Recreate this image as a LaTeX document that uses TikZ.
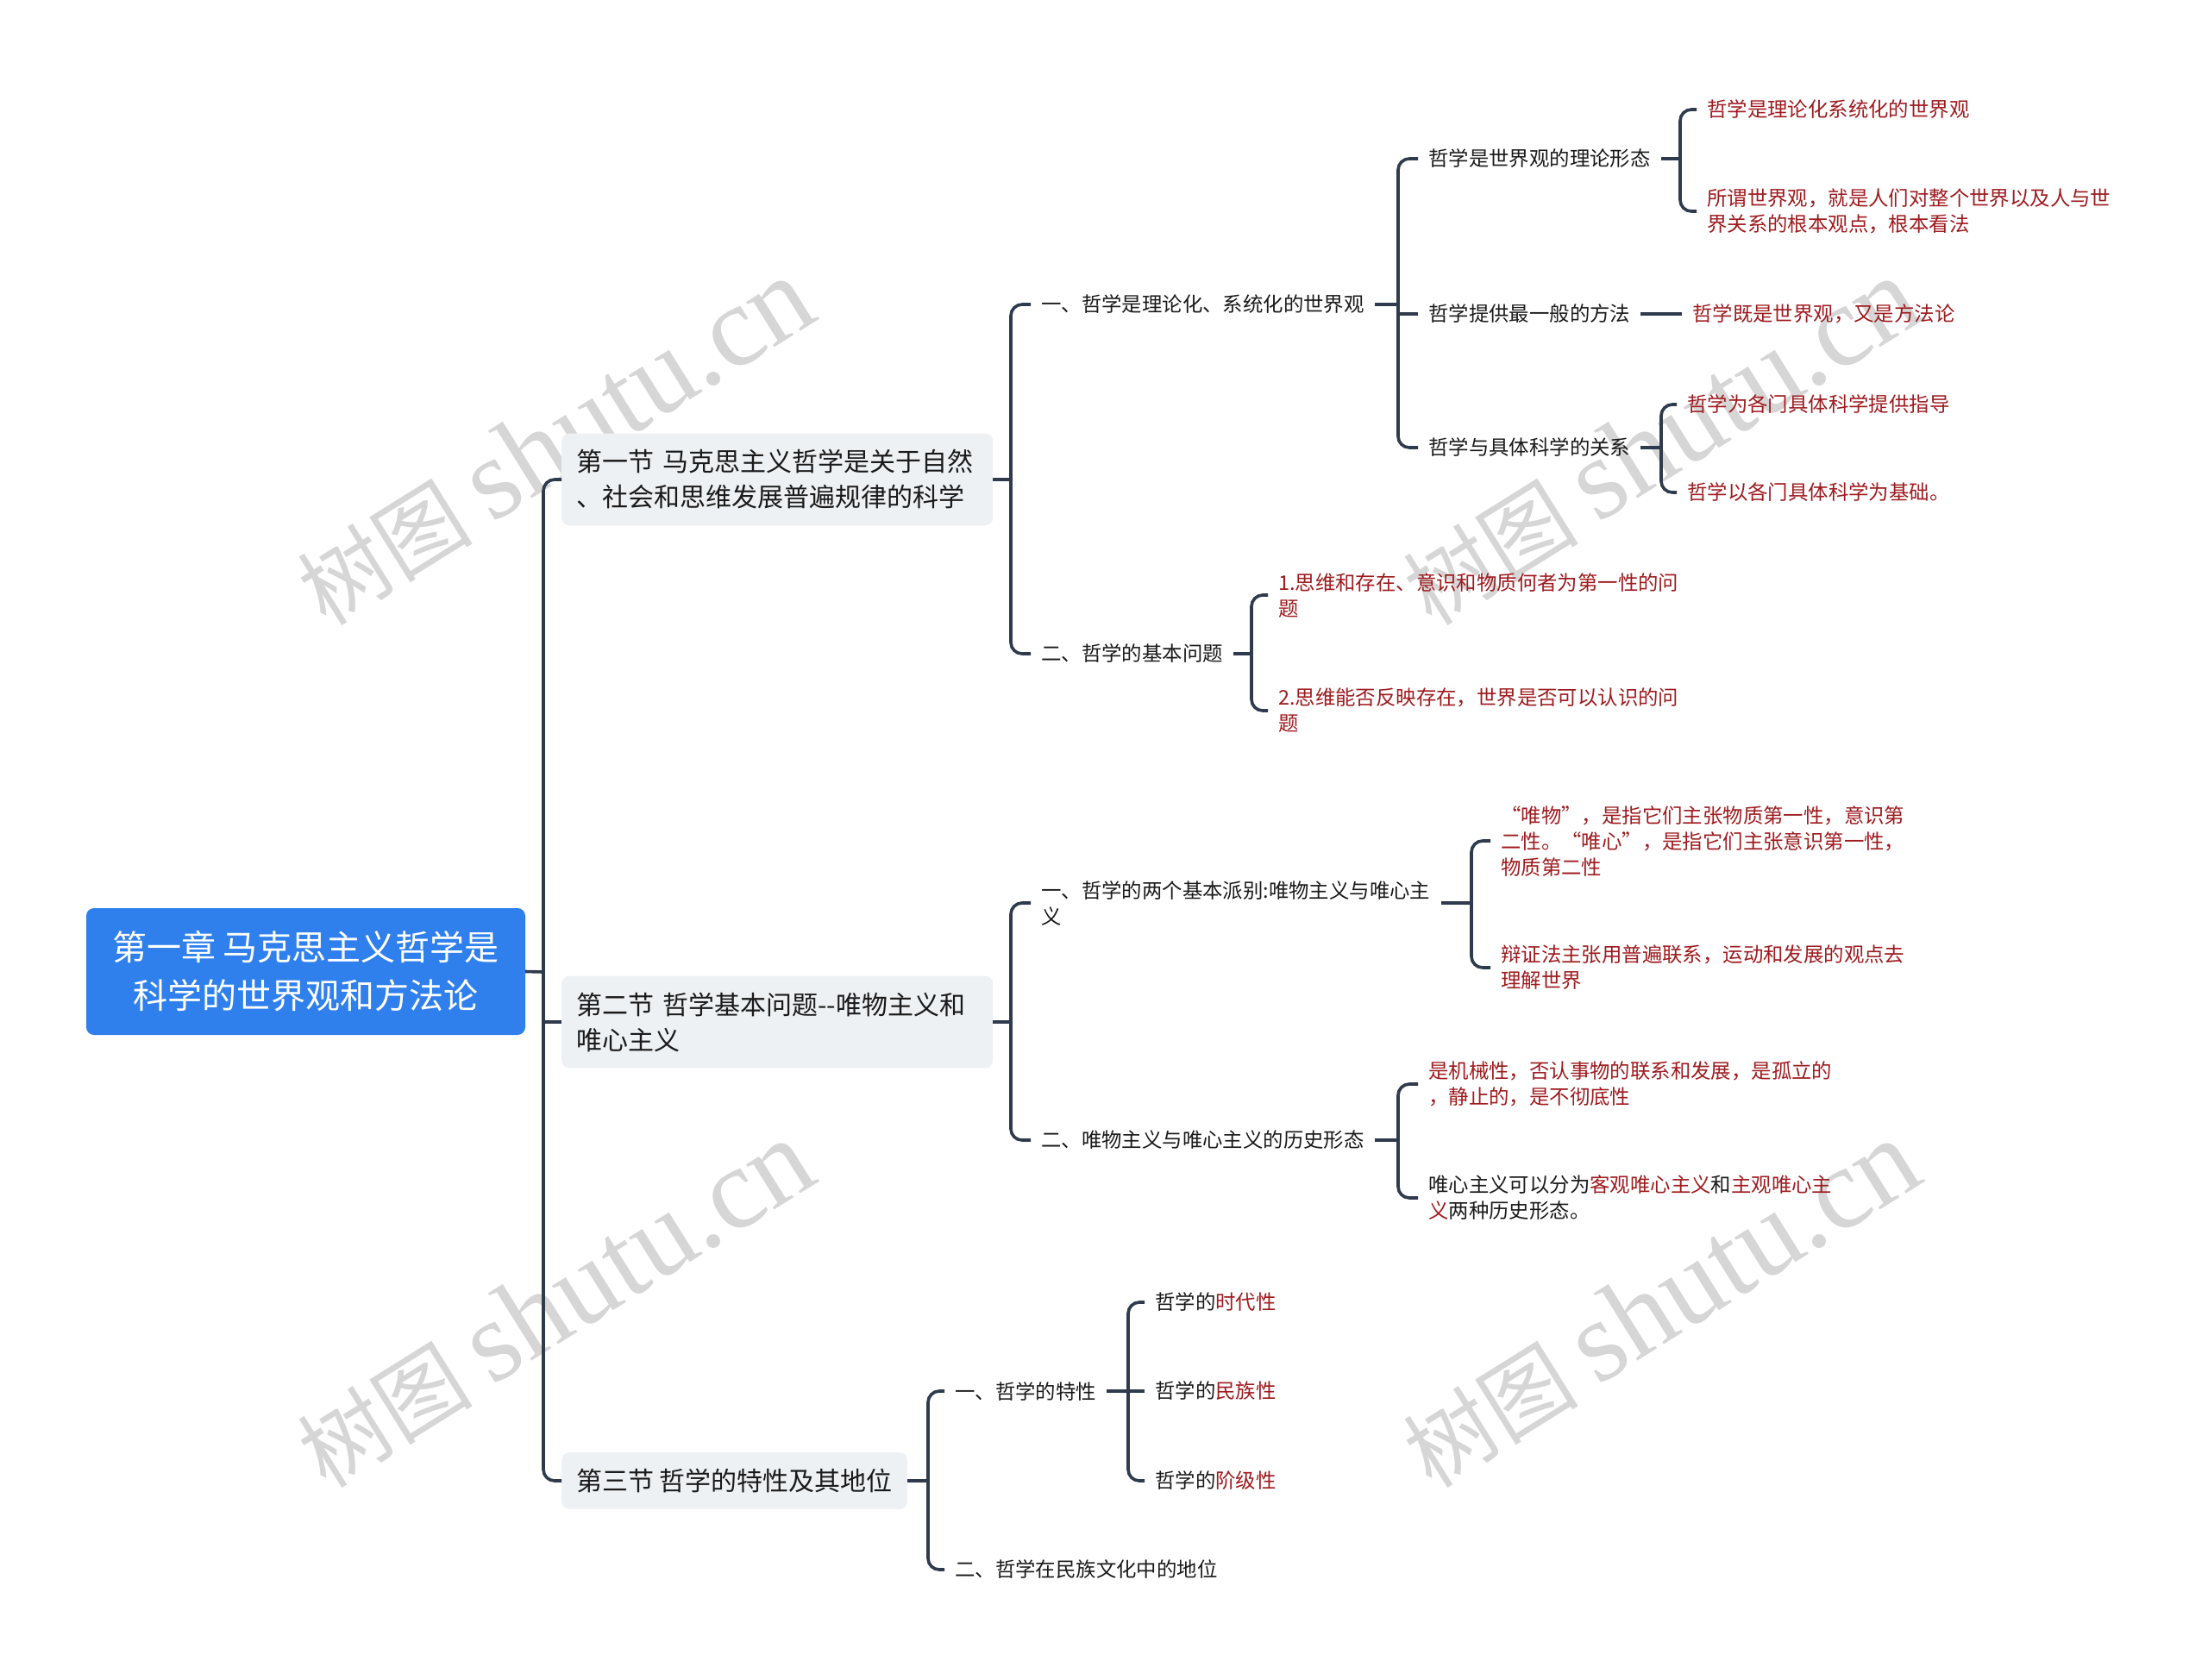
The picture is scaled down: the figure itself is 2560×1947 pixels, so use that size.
\documentclass[tikz,border=0pt]{standalone}
\usepackage{fontspec}
\setmainfont{Noto Sans CJK SC}
\newfontfamily\wmlatin{Liberation Serif}
\usetikzlibrary{calc}
\definecolor{conn}{HTML}{2F3B4D}
\definecolor{redt}{HTML}{9E1B1F}
\definecolor{blk}{HTML}{1A1A1A}
\definecolor{rootblue}{HTML}{2F80ED}
\definecolor{secfill}{HTML}{EEF1F4}
\definecolor{wm}{HTML}{D6D6D6}
\begin{document}
\begin{tikzpicture}[x=1pt,y=-1pt,
  link/.style={draw=conn,line width=3.6pt,rounded corners=13pt},
  stub/.style={draw=conn,line width=3.6pt},
  leaf/.style={anchor=west,inner xsep=12pt,inner ysep=3pt,font=\fontsize{23.4}{30}\selectfont,text=blk,align=left},
  rleaf/.style={leaf,text=redt},
  sec/.style={anchor=west,fill=secfill,rounded corners=9pt,inner xsep=17pt,inner ysep=19pt,font=\fontsize{30}{41}\selectfont,text=blk,align=left},
  rootbox/.style={fill=rootblue,rounded corners=9pt,text=white,font=\fontsize{40}{56}\selectfont,align=center,minimum width=509pt,minimum height=147pt,inner sep=0pt},
  wmark/.style={text=wm,rotate=32,inner sep=0pt}
]
\useasboundingbox[fill=white] (0,0) rectangle (2560,1947);

% watermarks
\node[wmark] (w1) at (643,512) {\fontsize{102}{102}\selectfont 树图 {\wmlatin\fontsize{134}{134}\selectfont shutu.cn}};
\node[wmark] (w2) at (1925,512) {\fontsize{102}{102}\selectfont 树图 {\wmlatin\fontsize{134}{134}\selectfont shutu.cn}};
\node[wmark] (w3) at (643,1512) {\fontsize{102}{102}\selectfont 树图 {\wmlatin\fontsize{134}{134}\selectfont shutu.cn}};
\node[wmark] (w4) at (1925,1512) {\fontsize{102}{102}\selectfont 树图 {\wmlatin\fontsize{134}{134}\selectfont shutu.cn}};

% root
\node[rootbox] (root) at (354.5,1126.5) {第一章 马克思主义哲学是\\科学的世界观和方法论};

% sections
\node[sec,text width=466pt] (s1) at (651,556) {第一节 马克思主义哲学是关于自然\\、社会和思维发展普遍规律的科学};
\node[sec,text width=466pt] (s2) at (651,1185) {第二节 哲学基本问题-{}-唯物主义和\\唯心主义};
\node[sec] (s3) at (651,1717) {第三节 哲学的特性及其地位};

\coordinate (j0) at (630,1127);
\draw[stub] (root.east) -- (j0);
\draw[link] (j0) |- (s1.west);
\draw[link] (j0) |- (s3.west);
\draw[stub] (j0) -- (j0 |- s2.west) -- (s2.west);

% section 1
\node[leaf] (a1) at (1195,353) {一、哲学是理论化、系统化的世界观};
\node[leaf] (a2) at (1195,758) {二、哲学的基本问题};
\coordinate (j1) at (1172,556);
\draw[stub] (s1.east) -- (j1);
\draw[link] (j1) |- (a1.west);
\draw[link] (j1) |- (a2.west);

\node[leaf] (b1) at (1644,184) {哲学是世界观的理论形态};
\node[leaf] (b2) at (1644,364) {哲学提供最一般的方法};
\node[leaf] (b3) at (1644,519) {哲学与具体科学的关系};
\coordinate (ja1) at (1621,353);
\draw[stub] (a1.east) -- (ja1);
\draw[link] (ja1) |- (b1.west);
\draw[link] (ja1) |- (b3.west);
\draw[stub] (ja1 |- b2.west) -- (b2.west);

\node[rleaf] (c1) at (1967,127) {哲学是理论化系统化的世界观};
\node[rleaf] (c2) at (1967,245) {所谓世界观，就是人们对整个世界以及人与世\\界关系的根本观点，根本看法};
\coordinate (jb1) at (1948,184);
\draw[stub] (b1.east) -- (jb1);
\draw[link] (jb1) |- (c1.west);
\draw[link] (jb1) |- (c2.west);

\node[rleaf] (d1) at (1950,364) {哲学既是世界观，又是方法论};
\draw[stub] (b2.east) -- (d1.west);

\node[rleaf] (e1) at (1944,469) {哲学为各门具体科学提供指导};
\node[rleaf] (e2) at (1944,571) {哲学以各门具体科学为基础。};
\coordinate (jb3) at (1926,519);
\draw[stub] (b3.east) -- (jb3);
\draw[link] (jb3) |- (e1.west);
\draw[link] (jb3) |- (e2.west);

\node[rleaf] (f1) at (1470,690) {1.思维和存在、意识和物质何者为第一性的问\\题};
\node[rleaf] (f2) at (1470,824) {2.思维能否反映存在，世界是否可以认识的问\\题};
\coordinate (ja2) at (1451,758);
\draw[stub] (a2.east) -- (ja2);
\draw[link] (ja2) |- (f1.west);
\draw[link] (ja2) |- (f2.west);

% section 2
\node[leaf] (g1) at (1195,1047) {一、哲学的两个基本派别:唯物主义与唯心主\\义};
\node[leaf] (g2) at (1195,1322) {二、唯物主义与唯心主义的历史形态};
\coordinate (j2) at (1172,1185);
\draw[stub] (s2.east) -- (j2);
\draw[link] (j2) |- (g1.west);
\draw[link] (j2) |- (g2.west);

\node[rleaf] (h1) at (1728,975) {“唯物”，是指它们主张物质第一性，意识第\\二性。“唯心”，是指它们主张意识第一性，\\物质第二性};
\node[rleaf] (h2) at (1728,1122) {辩证法主张用普遍联系，运动和发展的观点去\\理解世界};
\coordinate (jg1) at (1706,1047);
\draw[stub] (g1.east) -- (jg1);
\draw[link] (jg1) |- (h1.west);
\draw[link] (jg1) |- (h2.west);

\node[rleaf] (i1) at (1644,1257) {是机械性，否认事物的联系和发展，是孤立的\\，静止的，是不彻底性};
\node[leaf] (i2) at (1644,1389) {唯心主义可以分为\textcolor{redt}{客观唯心主义}和\textcolor{redt}{主观唯心主}\\\textcolor{redt}{义}两种历史形态。};
\coordinate (jg2) at (1621,1322);
\draw[stub] (g2.east) -- (jg2);
\draw[link] (jg2) |- (i1.west);
\draw[link] (jg2) |- (i2.west);

% section 3
\node[leaf] (k1) at (1095,1613) {一、哲学的特性};
\node[leaf] (k2) at (1095,1820) {二、哲学在民族文化中的地位};
\coordinate (j3) at (1076,1717);
\draw[stub] (s3.east) -- (j3);
\draw[link] (j3) |- (k1.west);
\draw[link] (j3) |- (k2.west);

\node[leaf] (m1) at (1327,1510) {哲学的\textcolor{redt}{时代性}};
\node[leaf] (m2) at (1327,1613) {哲学的\textcolor{redt}{民族性}};
\node[leaf] (m3) at (1327,1717) {哲学的\textcolor{redt}{阶级性}};
\coordinate (jk1) at (1308,1613);
\draw[stub] (k1.east) -- (m2.west);
\draw[link] (jk1) |- (m1.west);
\draw[link] (jk1) |- (m3.west);
\end{tikzpicture}
\end{document}
